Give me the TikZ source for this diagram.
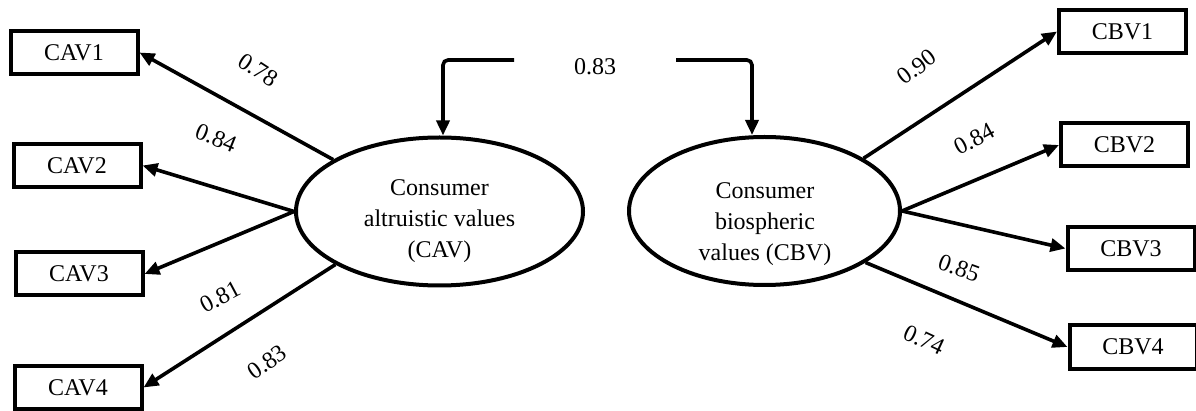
\documentclass[tikz,border=0pt]{standalone}
\usepackage{fontspec}
\setmainfont{Liberation Serif}
\usetikzlibrary{arrows.meta,shapes.geometric}
\begin{document}
\begin{tikzpicture}[x=1pt,y=-1pt,
  every node/.style={font=\fontsize{24}{31}\selectfont},
  obs/.style={draw, line width=4pt, minimum width=127pt, minimum height=43pt, inner sep=0pt},
  lat/.style={draw, ellipse, line width=4pt, inner sep=0pt},
  load/.style={line width=3.6pt, -{Triangle[length=15pt,width=13pt]}},
  coef/.style={inner sep=0pt}]
\useasboundingbox (0,0) rectangle (1196,411);
% indicators
\node[obs] (cav1) at (74,52.5) {CAV1};
\node[obs] (cav2) at (77,165.5) {CAV2};
\node[obs] (cav3) at (79,274) {CAV3};
\node[obs] (cav4) at (78,387.5) {CAV4};
\node[obs] (cbv1) at (1122.5,31.5) {CBV1};
\node[obs] (cbv2) at (1124.5,145) {CBV2};
\node[obs] (cbv3) at (1131,248.5) {CBV3};
\node[obs] (cbv4) at (1133,347) {CBV4};
% latent variables
\node[lat, minimum width=287pt, minimum height=148pt] (cav) at (439.5,211.5) {};
\node[lat, minimum width=271pt, minimum height=148pt] (cbv) at (764.5,211) {};
\node[align=center, inner sep=0pt] (cavt) at (439.5,221.5) {Consumer\\altruistic values\\(CAV)};
\node[align=center, inner sep=0pt] (cbvt) at (765,224.5) {Consumer\\biospheric\\values (CBV)};
% loadings
\draw[load] (cav.154) -- (cav1.east);
\draw[load] (cav.west) -- (cav2.east);
\draw[load] (cav.west) -- (cav3.east);
\draw[load] (cav.207.5) -- (cav4.east);
\draw[load] (cbv.28.5) -- (cbv1.west);
\draw[load] (cbv.east) -- (cbv2.west);
\draw[load] (cbv.east) -- (cbv3.west);
\draw[load] (cbv.-27.8) -- (cbv4.west);
% loading labels
\node[coef, rotate=-33] (l1) at (258,70) {0.78};
\node[coef, rotate=-22] (l2) at (216,138) {0.84};
\node[coef, rotate=28] (l3) at (220,297) {0.81};
\node[coef, rotate=35] (l4) at (267,362) {0.83};
\node[coef, rotate=37] (l5) at (917,67) {0.90};
\node[coef, rotate=28] (l6) at (974,139) {0.84};
\node[coef, rotate=-20] (l7) at (959,268) {0.85};
\node[coef, rotate=-25] (l8) at (924,340) {0.74};
% covariance
\node[coef] (r) at (595,67) {0.83};
\coordinate (rl) at (514,60);
\coordinate (rr) at (676,60);
\draw[load, rounded corners=5pt] (rl) -| ([xshift=3.5pt]cav.north);
\draw[load, rounded corners=5pt] (rr) -| ([xshift=-12.5pt]cbv.north);
\end{tikzpicture}
\end{document}
